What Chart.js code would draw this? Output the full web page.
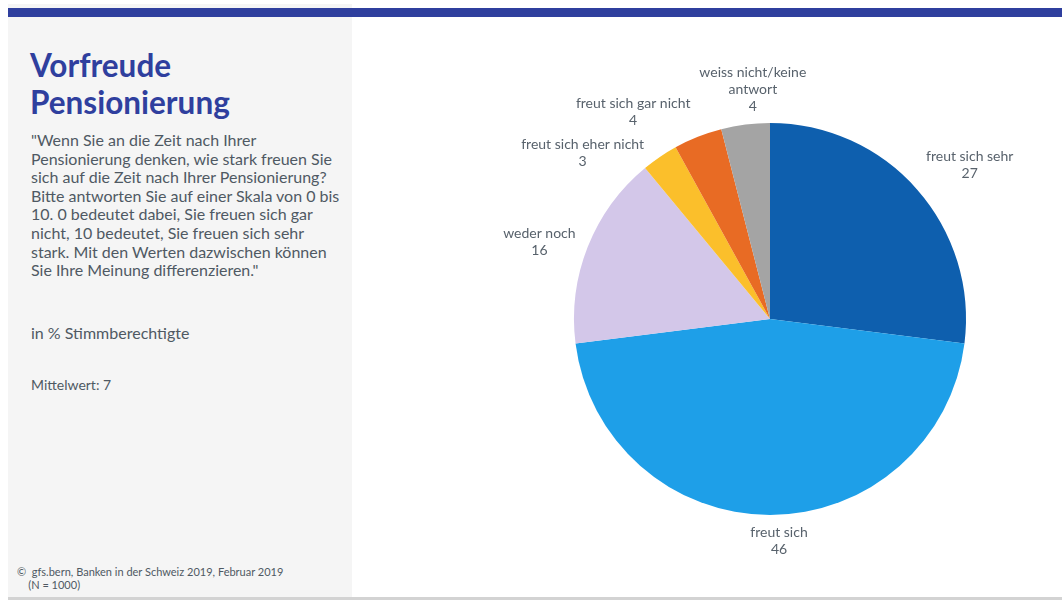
<!DOCTYPE html>
<html lang="de">
<head>
<meta charset="utf-8">
<title>Vorfreude Pensionierung</title>
<script src="https://cdn.jsdelivr.net/npm/chart.js@4.4.1/dist/chart.umd.min.js"></script>
<style>
  html, body { margin: 0; padding: 0; background: #fff; }
  body { width: 1062px; height: 600px; position: relative; overflow: hidden; font-family: Lato, "Noto Sans", sans-serif; }
  .side { position: absolute; left: 8px; top: 4px; width: 344px; height: 593px; background: #f5f5f5; }
  .topbar { position: absolute; left: 8px; top: 8px; width: 1054px; height: 9px; background: #2f3f9e; }
  .bottombar { position: absolute; left: 8px; top: 597px; width: 1054px; height: 3px; background: #d3d3d3; }
  h1 { position: absolute; left: 30px; top: 47px; margin: 0; font-size: 31.5px; line-height: 37px; font-weight: 700; color: #2f3f9e; }
  .question { position: absolute; left: 31px; top: 131px; margin: 0; font-size: 16px; line-height: 18.6px; color: #4f5963; }
  .unit { position: absolute; left: 31px; top: 323px; margin: 0; font-size: 16px; line-height: 20px; color: #4f5963; }
  .mean { position: absolute; left: 31px; top: 375px; margin: 0; font-size: 14px; line-height: 20px; color: #4f5963; }
  .source { position: absolute; left: 17px; top: 565px; margin: 0; font-size: 11px; line-height: 13px; color: #4f5963; }
  #pie { position: absolute; left: 352px; top: 17px; }
</style>
</head>
<body>
<div class="side"></div>
<div class="topbar"></div>
<div class="bottombar"></div>
<h1>Vorfreude<br>Pensionierung</h1>
<p class="question">"Wenn Sie an die Zeit nach Ihrer<br>Pensionierung denken, wie stark freuen Sie<br>sich auf die Zeit nach Ihrer Pensionierung?<br>Bitte antworten Sie auf einer Skala von 0 bis<br>10. 0 bedeutet dabei, Sie freuen sich gar<br>nicht, 10 bedeutet, Sie freuen sich sehr<br>stark. Mit den Werten dazwischen können<br>Sie Ihre Meinung differenzieren."</p>
<p class="unit">in % Stimmberechtigte</p>
<p class="mean">Mittelwert: 7</p>
<p class="source">©&nbsp; gfs.bern, Banken in der Schweiz 2019, Februar 2019<br>&nbsp;&nbsp;&nbsp;&nbsp;(N = 1000)</p>
<canvas id="pie" width="710" height="580"></canvas>
<script>
// answer categories, clockwise from 12 o'clock
var categories = [
    "freut sich sehr",
    "freut sich",
    "weder noch",
    "freut sich eher nicht",
    "freut sich gar nicht",
    "weiss nicht/keine\nantwort"
];
// share in % of voters
var shares = [27, 46, 16, 3, 4, 4];
var sliceColors = ["#0e5fae", "#1e9fe8", "#d3c7e9", "#fbbf2b", "#e86b24", "#a4a4a4"];

function clamp(v) {
    return Math.max(-1, Math.min(1, v));
}

// category name + value written outside each slice
var outsideLabels = {
    id: 'outsideLabels',
    afterDatasetsDraw: function(chart, args, opts) {
        var ctx = chart.ctx;
        var meta = chart.getDatasetMeta(0);
        var values = chart.data.datasets[0].data;
        ctx.save();
        ctx.font = opts.font;
        ctx.fillStyle = opts.color;
        ctx.textAlign = 'center';
        ctx.textBaseline = 'middle';
        meta.data.forEach(function(arc, i) {
            var p = arc.getProps(['x', 'y', 'startAngle', 'endAngle', 'outerRadius'], true);
            var mid = (p.startAngle + p.endAngle) / 2;
            var ux = Math.cos(mid), uy = Math.sin(mid);
            var lines = chart.data.labels[i].split('\n').concat([String(values[i])]);
            var w = Math.max.apply(null, lines.map(function(l) { return ctx.measureText(l).width; }));
            var h = lines.length * opts.lineHeight;
            var ax = p.x + (p.outerRadius + opts.offset) * ux;
            var ay = p.y + (p.outerRadius + opts.offset) * uy;
            var nudge = opts.nudge[i] || [0, 0];
            var cx = ax + clamp(ux * 3) * w / 2 + nudge[0];
            var cy = ay + clamp(uy * 1.5) * h / 2 + nudge[1];
            lines.forEach(function(l, k) {
                ctx.fillText(l, cx, cy - h / 2 + opts.lineHeight * (k + 0.5));
            });
        });
        ctx.restore();
    }
};

new Chart(document.getElementById('pie'), {
    type: 'pie',
    data: {
        labels: categories,
        datasets: [{
            data: shares,
            backgroundColor: sliceColors,
            borderWidth: 0
        }]
    },
    options: {
        responsive: false,
        animation: false,
        layout: {
            padding: { left: 222, right: 96, top: 106, bottom: 82 }
        },
        plugins: {
            legend: { display: false },
            tooltip: { enabled: false },
            outsideLabels: {
                font: '14px Lato, "Noto Sans", sans-serif',
                color: '#58626c',
                lineHeight: 17,
                offset: 12,
                nudge: [[0, 0], [9, -3], [-1, 9], [-9, 23], [-3, 3], [29, 2]]
            }
        }
    },
    plugins: [outsideLabels]
});
</script>
</body>
</html>
